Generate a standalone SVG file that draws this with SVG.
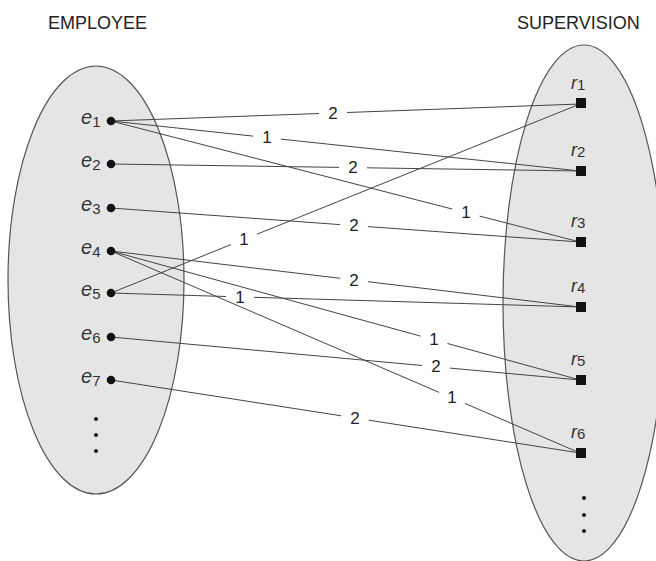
<svg xmlns="http://www.w3.org/2000/svg" width="656" height="561" viewBox="0 0 656 561">
<style>
.set{fill:#e5e5e5;stroke:#555;stroke-width:1.2}
.title{font-family:"Liberation Sans",Arial,sans-serif;font-size:18px;fill:#222}
.lbl{font-family:"Liberation Sans",Arial,sans-serif;font-size:20px;font-style:italic;fill:#333}
.rl{font-family:"Liberation Sans",Arial,sans-serif;font-size:18px;font-style:italic;fill:#333}
.sub{font-size:15px;font-style:normal}
.w{font-family:"Liberation Sans",Arial,sans-serif;font-size:17px;fill:#222;text-anchor:middle}
.edge{stroke:#444;stroke-width:1;fill:none}
.dot{fill:#111}
</style>
<rect width="656" height="561" fill="#fff"/>
<text class="title" x="48" y="29">EMPLOYEE</text>
<text class="title" x="517" y="29">SUPERVISION</text>
<ellipse class="set" cx="96" cy="280" rx="88" ry="214"/>
<ellipse class="set" cx="584" cy="303" rx="81" ry="258"/>
<g id="connectors">
<g id="c1"><path class="edge" d="M111,121 L319,113.5 M347,112.5 L580,104"/><text class="w" x="333" y="118.5">2</text></g>
<g id="c2"><path class="edge" d="M111,121 L253.1,136.1 M280.9,139.1 L580,171"/><text class="w" x="267" y="143">1</text></g>
<g id="c3"><path class="edge" d="M111,121 L452.4,209.1 M479.6,216.1 L580,242"/><text class="w" x="466" y="218">1</text></g>
<g id="c4"><path class="edge" d="M111,164 L339,167.4 M367,167.8 L580,171"/><text class="w" x="353" y="173">2</text></g>
<g id="c5"><path class="edge" d="M111,208 L340,224.6 M368,226.6 L580,242"/><text class="w" x="354" y="231">2</text></g>
<g id="c6"><path class="edge" d="M111,293 L231,244.6 M257,234.2 L580,104"/><text class="w" x="244" y="245">1</text></g>
<g id="c7"><path class="edge" d="M111,251 L340.1,278.3 M367.9,281.7 L580,307"/><text class="w" x="354" y="285.5">2</text></g>
<g id="c8"><path class="edge" d="M111,293 L226,296.5 M254,297.3 L580,307"/><text class="w" x="240" y="302.5">1</text></g>
<g id="c9"><path class="edge" d="M111,251 L420.5,336.1 M447.5,343.5 L580,380"/><text class="w" x="434" y="345.3">1</text></g>
<g id="c10"><path class="edge" d="M111,337 L422.1,365.5 M449.9,368.1 L580,380"/><text class="w" x="436" y="372.3">2</text></g>
<g id="c11"><path class="edge" d="M111,251 L439.1,392.4 M464.9,403.4 L580,453"/><text class="w" x="452" y="403.4">1</text></g>
<g id="c12"><path class="edge" d="M111,380 L341.2,415.8 M368.8,420.2 L580,453"/><text class="w" x="355" y="423.5">2</text></g>
</g>
<g id="e1"><circle class="dot" cx="111" cy="121" r="4.3"/><text class="lbl" x="81" y="124">e<tspan class="sub" dy="3">1</tspan></text></g>
<g id="e2"><circle class="dot" cx="111" cy="164" r="4.3"/><text class="lbl" x="81" y="167">e<tspan class="sub" dy="3">2</tspan></text></g>
<g id="e3"><circle class="dot" cx="111" cy="208" r="4.3"/><text class="lbl" x="81" y="211">e<tspan class="sub" dy="3">3</tspan></text></g>
<g id="e4"><circle class="dot" cx="111" cy="251" r="4.3"/><text class="lbl" x="81" y="254">e<tspan class="sub" dy="3">4</tspan></text></g>
<g id="e5"><circle class="dot" cx="111" cy="293" r="4.3"/><text class="lbl" x="81" y="296">e<tspan class="sub" dy="3">5</tspan></text></g>
<g id="e6"><circle class="dot" cx="111" cy="337" r="4.3"/><text class="lbl" x="81" y="340">e<tspan class="sub" dy="3">6</tspan></text></g>
<g id="e7"><circle class="dot" cx="111" cy="380" r="4.3"/><text class="lbl" x="81" y="383">e<tspan class="sub" dy="3">7</tspan></text></g>
<g id="e-more"><circle class="dot" cx="96" cy="419" r="2"/><circle class="dot" cx="96" cy="435" r="2"/><circle class="dot" cx="96" cy="451" r="2"/></g>
<g id="r1"><rect class="dot" x="576" y="98" width="10" height="10"/><text class="rl" x="571" y="89">r<tspan class="sub" dy="1">1</tspan></text></g>
<g id="r2"><rect class="dot" x="576" y="166" width="10" height="10"/><text class="rl" x="571" y="156">r<tspan class="sub" dy="1">2</tspan></text></g>
<g id="r3"><rect class="dot" x="576" y="237" width="10" height="10"/><text class="rl" x="571" y="227">r<tspan class="sub" dy="1">3</tspan></text></g>
<g id="r4"><rect class="dot" x="576" y="302" width="10" height="10"/><text class="rl" x="571" y="292">r<tspan class="sub" dy="1">4</tspan></text></g>
<g id="r5"><rect class="dot" x="576" y="375" width="10" height="10"/><text class="rl" x="571" y="365">r<tspan class="sub" dy="1">5</tspan></text></g>
<g id="r6"><rect class="dot" x="576" y="448" width="10" height="10"/><text class="rl" x="571" y="438">r<tspan class="sub" dy="1">6</tspan></text></g>
<g id="r-more"><circle class="dot" cx="584" cy="498" r="2"/><circle class="dot" cx="584" cy="515" r="2"/><circle class="dot" cx="584" cy="531" r="2"/></g>
</svg>
